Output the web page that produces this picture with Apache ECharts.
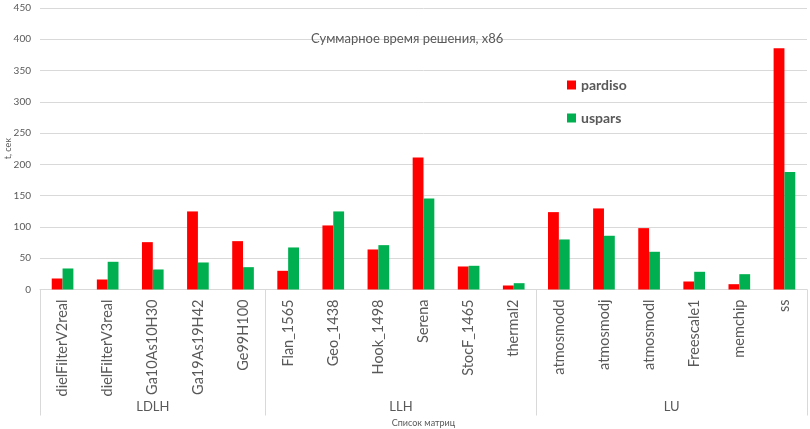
<!DOCTYPE html>
<html><head><meta charset="utf-8">
<script src="https://cdn.jsdelivr.net/npm/echarts@6/dist/echarts.min.js"></script>
<style>html,body{margin:0;padding:0;background:#fff}#c{width:810px;height:429px}</style>
</head><body><div id="c"></div>
<script>
const categories = ['dielFilterV2real','dielFilterV3real','Ga10As10H30','Ga19As19H42','Ge99H100','Flan_1565','Geo_1438','Hook_1498','Serena','StocF_1465','thermal2','atmosmodd','atmosmodj','atmosmodl','Freescale1','memchip','ss'];
const pardiso = [17.6, 16, 75.7, 124.8, 77.3, 29.9, 102.4, 64, 211.2, 36.8, 6.4, 123.7, 129.6, 98.1, 12.8, 8.5, 385.6];
const uspars  = [33.6, 44.3, 32, 43.2, 35.7, 67.2, 124.8, 70.9, 145.6, 37.9, 10.1, 80, 85.9, 60.3, 28.3, 24.5, 187.7];
const groups = ['LDLH','LLH','LU'];
const groupSizes = [5, 6, 6];
const yTicks = [0, 50, 100, 150, 200, 250, 300, 350, 400, 450];

const bounds = [0]; groupSizes.forEach(s => bounds.push(bounds[bounds.length-1] + s));
const centers = groups.map((g,i) => (bounds[i] + bounds[i+1]) / 2);
const FONT = 'Lato';
const GRAY = '#595959';
const chart = echarts.init(document.getElementById('c'));
chart.setOption({
  animation: false,
  textStyle: {fontFamily: FONT},
  title: {text: 'Суммарное время решения, x86', left: 306, top: 27,
    textStyle: {fontSize: 13, fontWeight: 'normal', color: GRAY, fontFamily: FONT}},
  legend: {orient: 'vertical', left: 562, top: 73, itemGap: 19, itemWidth: 9, itemHeight: 9, icon: 'rect',
    textStyle: {fontSize: 14, fontWeight: 'bold', color: GRAY, fontFamily: FONT}},
  grid: {left: 40, right: 3, top: 8, bottom: 139.5, containLabel: false, outerBoundsMode: 'none'},
  xAxis: [
    {type: 'category', data: categories, position: 'bottom',
     axisLine: {show: true, lineStyle: {color: '#d9d9d9'}}, axisTick: {show: false},
     axisLabel: {rotate: 90, fontSize: 14.5, color: GRAY, margin: 10, interval: 0, fontFamily: FONT}},
    {type: 'value', min: 0, max: bounds[bounds.length-1], position: 'bottom',
     name: 'Список матриц', nameLocation: 'middle', nameGap: 129, nameMoveOverlap: false,
     nameTextStyle: {fontSize: 9, color: GRAY, fontFamily: FONT},
     axisLine: {show: false}, splitLine: {show: false},
     axisTick: {show: true, length: 126, inside: false, customValues: bounds, lineStyle: {color: '#d9d9d9'}},
     axisLabel: {customValues: centers, margin: 111, fontSize: 13, color: GRAY, fontFamily: FONT,
       formatter: v => { const i = centers.indexOf(v); return i >= 0 ? groups[i] : ''; }}}
  ],
  yAxis: {type: 'value', min: 0, max: 450, interval: 50,
    name: 't, сек', nameLocation: 'middle', nameGap: 27, nameRotate: 90, nameMoveOverlap: false,
    nameTextStyle: {fontSize: 9, color: GRAY, fontFamily: FONT},
    axisLine: {show: false}, axisTick: {show: false},
    axisLabel: {fontSize: 10, color: GRAY, margin: 9, fontFamily: FONT},
    splitLine: {lineStyle: {color: '#d9d9d9'}}},
  series: [
    {name: 'pardiso', type: 'bar', data: pardiso, xAxisIndex: 0, itemStyle: {color: '#FF0000'}, barGap: '0%', barCategoryGap: '52%'},
    {name: 'uspars', type: 'bar', data: uspars, xAxisIndex: 0, itemStyle: {color: '#00B050'}, barGap: '0%', barCategoryGap: '52%'}
  ]
});
</script></body></html>
